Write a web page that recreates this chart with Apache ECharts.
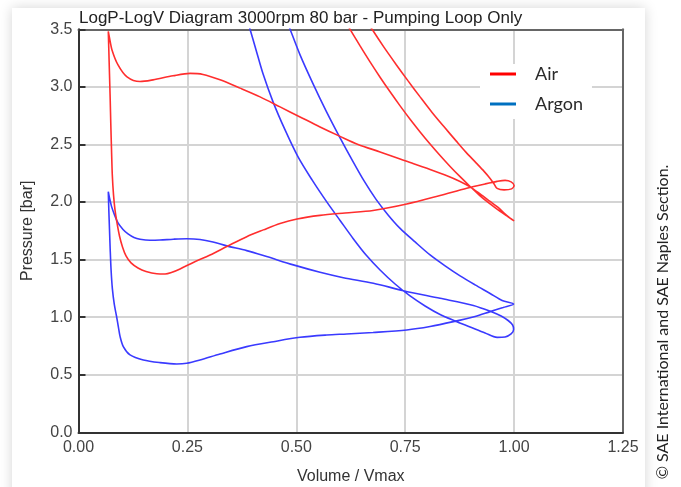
<!DOCTYPE html>
<html>
<head>
<meta charset="utf-8">
<title>LogP-LogV Diagram</title>
<script src="https://cdn.jsdelivr.net/npm/echarts@6/dist/echarts.min.js"></script>
<style>
  html, body { margin: 0; padding: 0; background: #fff; }
  #chart { width: 681px; height: 487px; }
</style>
</head>
<body>
<div id="chart"></div>
<script>
// Axis tick labels
const xTickLabels = ['0.00', '0.25', '0.50', '0.75', '1.00', '1.25'];
const yTickLabels = ['0.0', '0.5', '1.0', '1.5', '2.0', '2.5', '3.0', '3.5'];
const seriesNames = ['Air', 'Argon'];

// Air pumping loop, [Volume/Vmax, Pressure bar], stroke by stroke
const airExpansion = [
  [0.6005, 3.639], [0.6234, 3.500], [0.6464, 3.356], [0.6693, 3.217], [0.6923, 3.084],
  [0.7153, 2.957], [0.7383, 2.835], [0.7612, 2.719], [0.7842, 2.609], [0.8071, 2.504],
  [0.8301, 2.404], [0.8531, 2.309], [0.8760, 2.220], [0.8990, 2.135], [0.9219, 2.054],
  [0.9449, 1.983], [0.9679, 1.918], [0.9862, 1.871], [1.0000, 1.836]
];
const airExhaust = [
  [0.9908, 1.860], [0.9770, 1.904], [0.9633, 1.953], [0.9449, 2.005], [0.9219, 2.070],
  [0.8990, 2.131], [0.8760, 2.179], [0.8416, 2.235], [0.8071, 2.283], [0.7727, 2.327],
  [0.7383, 2.374], [0.6923, 2.435], [0.6418, 2.500], [0.6005, 2.570], [0.5545, 2.652],
  [0.5086, 2.739], [0.4627, 2.826], [0.4168, 2.913], [0.3708, 2.989], [0.3249, 3.061],
  [0.2859, 3.108], [0.2561, 3.117], [0.2170, 3.096], [0.1711, 3.061], [0.1412, 3.046],
  [0.1114, 3.087], [0.0907, 3.191], [0.0769, 3.321], [0.0712, 3.426], [0.0684, 3.482]
];
const airIntake = [
  [0.0696, 3.321], [0.0712, 3.104], [0.0728, 2.887], [0.0742, 2.670], [0.0758, 2.453],
  [0.0776, 2.235], [0.0804, 2.062], [0.0838, 1.931], [0.0884, 1.818], [0.0941, 1.705],
  [0.1010, 1.610], [0.1091, 1.532], [0.1206, 1.471], [0.1366, 1.427], [0.1550, 1.397],
  [0.1796, 1.377], [0.1987, 1.375], [0.2147, 1.390], [0.2331, 1.419], [0.2636, 1.475],
  [0.3020, 1.540], [0.3403, 1.613], [0.3862, 1.699], [0.4243, 1.758], [0.4627, 1.814],
  [0.5017, 1.853], [0.5545, 1.884], [0.6119, 1.905], [0.6762, 1.927], [0.7536, 1.983],
  [0.8301, 2.057], [0.8914, 2.120], [0.9334, 2.157], [0.9610, 2.179], [0.9793, 2.188],
  [0.9931, 2.175], [1.0000, 2.144], [0.9943, 2.114], [0.9770, 2.105]
];
const airCompression = [
  [0.9610, 2.118], [0.9541, 2.157], [0.9449, 2.205], [0.9311, 2.266], [0.9127, 2.340],
  [0.8898, 2.431], [0.8668, 2.531], [0.8393, 2.653], [0.8117, 2.778], [0.7842, 2.913],
  [0.7566, 3.052], [0.7291, 3.195], [0.7015, 3.343], [0.6740, 3.500], [0.6556, 3.613]
];

// Argon pumping loop, [Volume/Vmax, Pressure bar], stroke by stroke
const argonExpansion = [
  [0.3846, 3.626], [0.3938, 3.501], [0.4076, 3.321], [0.4236, 3.113], [0.4466, 2.870],
  [0.4742, 2.626], [0.5040, 2.392], [0.5362, 2.192], [0.5699, 2.001], [0.6005, 1.840],
  [0.6303, 1.684], [0.6602, 1.540], [0.6923, 1.410], [0.7268, 1.288], [0.7612, 1.184],
  [0.7956, 1.097], [0.8301, 1.023], [0.8645, 0.967], [0.8990, 0.915], [0.9334, 0.863],
  [0.9610, 0.824], [0.9793, 0.828], [0.9931, 0.854], [0.9989, 0.893], [0.9966, 0.932],
  [0.9863, 0.971], [0.9702, 1.010], [0.9495, 1.045]
];
const argonExhaust = [
  [0.9065, 1.102], [0.8301, 1.164], [0.7458, 1.230], [0.6769, 1.295], [0.6080, 1.343],
  [0.5545, 1.390], [0.4932, 1.454], [0.4321, 1.526], [0.3862, 1.578], [0.3403, 1.619],
  [0.3088, 1.653], [0.2790, 1.675], [0.2484, 1.681], [0.2177, 1.677], [0.1871, 1.670],
  [0.1642, 1.668], [0.1412, 1.677], [0.1274, 1.692], [0.1137, 1.723], [0.1022, 1.762],
  [0.0907, 1.818], [0.0827, 1.888], [0.0758, 1.962], [0.0712, 2.036], [0.0684, 2.090]
];
const argonIntake = [
  [0.0696, 1.931], [0.0712, 1.758], [0.0728, 1.584], [0.0748, 1.410], [0.0778, 1.245],
  [0.0822, 1.110], [0.0872, 1.010], [0.0915, 0.915], [0.0955, 0.831], [0.1029, 0.744],
  [0.1183, 0.672], [0.1488, 0.628], [0.1871, 0.605], [0.2255, 0.593], [0.2484, 0.599],
  [0.2790, 0.628], [0.3249, 0.680], [0.3862, 0.744], [0.4473, 0.787], [0.5086, 0.825],
  [0.5699, 0.845], [0.6158, 0.854], [0.6762, 0.867], [0.7536, 0.889], [0.8071, 0.919],
  [0.8606, 0.961], [0.9105, 1.006], [0.9449, 1.048], [0.9748, 1.084], [0.9989, 1.115]
];
const argonCompression = [
  [0.9725, 1.145], [0.9449, 1.206], [0.9105, 1.280], [0.8760, 1.358], [0.8416, 1.445],
  [0.8071, 1.540], [0.7727, 1.653], [0.7383, 1.771], [0.7107, 1.888], [0.6831, 2.023],
  [0.6556, 2.183], [0.6280, 2.366], [0.6005, 2.557], [0.5683, 2.792], [0.5385, 3.026],
  [0.5086, 3.278], [0.4857, 3.501], [0.4742, 3.617]
];

// Each gas is traced as one continuous path through its four strokes
const airPath = [].concat(airExpansion, airExhaust, airIntake, airCompression);
const argonPath = [].concat(argonExpansion, argonExhaust, argonIntake, argonCompression);

const axisFont = 'Liberation Sans, Arial, sans-serif';
const chart = echarts.init(document.getElementById('chart'), null, { renderer: 'canvas' });

chart.setOption({
  animation: false,
  backgroundColor: '#ffffff',
  graphic: [
    {
      type: 'rect', z: -100, silent: true,
      shape: { x: 12, y: 8, width: 633, height: 520 },
      style: { fill: '#ffffff', shadowBlur: 12, shadowColor: 'rgba(0,0,0,0.17)' }
    },
    {
      type: 'text', x: 663, y: 322, rotation: Math.PI / 2, silent: true,
      style: {
        text: '\u00A9 SAE International and SAE Naples Section.',
        font: '16px Lato, "Open Sans", sans-serif',
        fill: '#222', align: 'center', verticalAlign: 'middle'
      }
    }
  ],
  title: {
    text: 'LogP-LogV Diagram 3000rpm 80 bar - Pumping Loop Only',
    left: 79, top: 10, padding: 0,
    textStyle: { fontFamily: axisFont, fontSize: 17, fontWeight: 'normal', color: '#222' }
  },
  legend: {
    orient: 'vertical', left: 480, top: 64,
    padding: [0, 9, 5, 10], itemGap: 10,
    itemWidth: 26, itemHeight: 3, icon: 'rect',
    backgroundColor: '#ffffff',
    selectedMode: false,
    textStyle: { fontFamily: 'Lato, "Open Sans", sans-serif', fontSize: 18, color: '#2a2a2a', lineHeight: 20, padding: [0, 0, 0, 14] },
    data: [
      { name: seriesNames[0], itemStyle: { color: '#ff0000', borderWidth: 0 } },
      { name: seriesNames[1], itemStyle: { color: '#0070c0', borderWidth: 0 } }
    ]
  },
  grid: { left: 78.5, right: 58, top: 29.3, bottom: 54.7, containLabel: false, outerBoundsMode: 'none' },
  xAxis: [
    {
      type: 'value', min: 0, max: 1.25, interval: 0.25,
      name: 'Volume / Vmax', nameLocation: 'middle', nameGap: 36,
      nameTextStyle: { fontFamily: axisFont, fontSize: 16, color: '#333' },
      axisLine: { show: true, onZero: false, lineStyle: { color: '#333', width: 2 } },
      axisTick: { show: false },
      axisLabel: {
        fontFamily: axisFont, fontSize: 16, color: '#444', margin: 7,
        formatter: v => xTickLabels[Math.round(v / 0.25)]
      },
      splitLine: { show: true, lineStyle: { color: '#d4d4d4', width: 2 } }
    },
    {
      type: 'value', position: 'top', min: 0, max: 1.25, interval: 0.25,
      axisLine: { show: true, onZero: false, lineStyle: { color: '#666', width: 2 } },
      axisTick: { show: false }, axisLabel: { show: false }, splitLine: { show: false }
    }
  ],
  yAxis: [
    {
      type: 'value', min: 0, max: 3.5, interval: 0.5,
      name: 'Pressure [bar]', nameLocation: 'middle', nameGap: 43,
      nameTextStyle: { fontFamily: axisFont, fontSize: 16, color: '#333' },
      axisLine: { show: true, onZero: false, lineStyle: { color: '#333', width: 2 } },
      axisTick: { show: true, inside: true, length: 7, lineStyle: { color: '#333', width: 2 } },
      axisLabel: {
        fontFamily: axisFont, fontSize: 16, color: '#444', margin: 6,
        formatter: v => yTickLabels[Math.round(v / 0.5)]
      },
      splitLine: { show: true, lineStyle: { color: '#d4d4d4', width: 2 } }
    },
    {
      type: 'value', position: 'right', min: 0, max: 3.5, interval: 0.5,
      axisLine: { show: true, onZero: false, lineStyle: { color: '#666', width: 2 } },
      axisTick: { show: false }, axisLabel: { show: false }, splitLine: { show: false }
    }
  ],
  series: [
    {
      name: seriesNames[1], type: 'line', data: argonPath,
      xAxisIndex: 0, yAxisIndex: 0,
      showSymbol: false, symbol: 'none', smooth: 0.3, clip: true,
      lineStyle: { color: '#3a3aff', width: 1.6 }, itemStyle: { color: '#3a3aff' }
    },
    {
      name: seriesNames[0], type: 'line', data: airPath,
      xAxisIndex: 0, yAxisIndex: 0,
      showSymbol: false, symbol: 'none', smooth: 0.3, clip: true,
      lineStyle: { color: '#ff2e2e', width: 1.6 }, itemStyle: { color: '#ff2e2e' }
    }
  ]
});
</script>
</body>
</html>
